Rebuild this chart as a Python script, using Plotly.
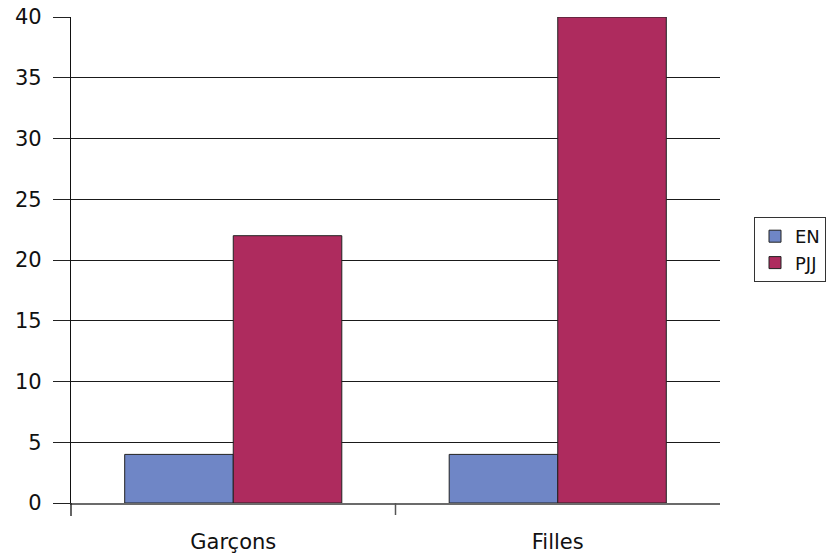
import plotly.graph_objects as go

categories = ["Garçons", "Filles"]
en_values = [4, 4]
pjj_values = [22, 40]
y_ticks = [0, 5, 10, 15, 20, 25, 30, 35, 40]

FONT = "DejaVu Sans, Arial, Liberation Sans, sans-serif"

fig = go.Figure()
fig.add_trace(go.Bar(
    name="EN", x=categories, y=en_values,
    marker=dict(color="#6f86c6", line=dict(color="#222222", width=1)),
))
fig.add_trace(go.Bar(
    name="PJJ", x=categories, y=pjj_values,
    marker=dict(color="#ae2b5e", line=dict(color="#222222", width=1)),
))

plot_h = 555 - 17 - 52

# left axis continues a little below zero, plus a separator tick between groups
fig.add_shape(type="line", xref="paper", yref="paper",
              x0=0, x1=0, y0=0, y1=-13 / plot_h,
              line=dict(color="#111111", width=1.3))
fig.add_shape(type="line", xref="x", yref="paper",
              x0=0.5, x1=0.5, y0=0, y1=-12 / plot_h,
              line=dict(color="#555555", width=1.5))

fig.update_layout(
    width=831, height=555,
    margin=dict(l=71, r=111, t=17, b=52, autoexpand=False),
    paper_bgcolor="white", plot_bgcolor="white",
    barmode="group", bargap=0.331, bargroupgap=0,
    font=dict(family=FONT, color="#111111"),
    showlegend=True,
    legend=dict(
        x=(754 - 71) / 649, xanchor="left",
        y=(503 - 217) / plot_h, yanchor="top",
        bordercolor="#333333", borderwidth=1,
        bgcolor="white",
        font=dict(size=18, family=FONT, color="#111111"),
        tracegroupgap=0,
    ),
    xaxis=dict(
        automargin=False,
        showline=True, linecolor="#6b6b6b", linewidth=2,
        ticks="", showgrid=False,
        tickfont=dict(size=21, family=FONT, color="#111111"),
        ticklabelstandoff=19,
    ),
    yaxis=dict(
        automargin=False,
        range=[0, 40], tickvals=y_ticks,
        showgrid=True, gridcolor="#1a1a1a", gridwidth=1,
        zeroline=False,
        showline=True, linecolor="#111111", linewidth=1.3,
        ticks="outside", ticklen=17, tickcolor="#222222", tickwidth=1,
        tickfont=dict(size=21, family=FONT, color="#111111"),
        ticklabelstandoff=7,
    ),
)

fig.write_html("out.html")
